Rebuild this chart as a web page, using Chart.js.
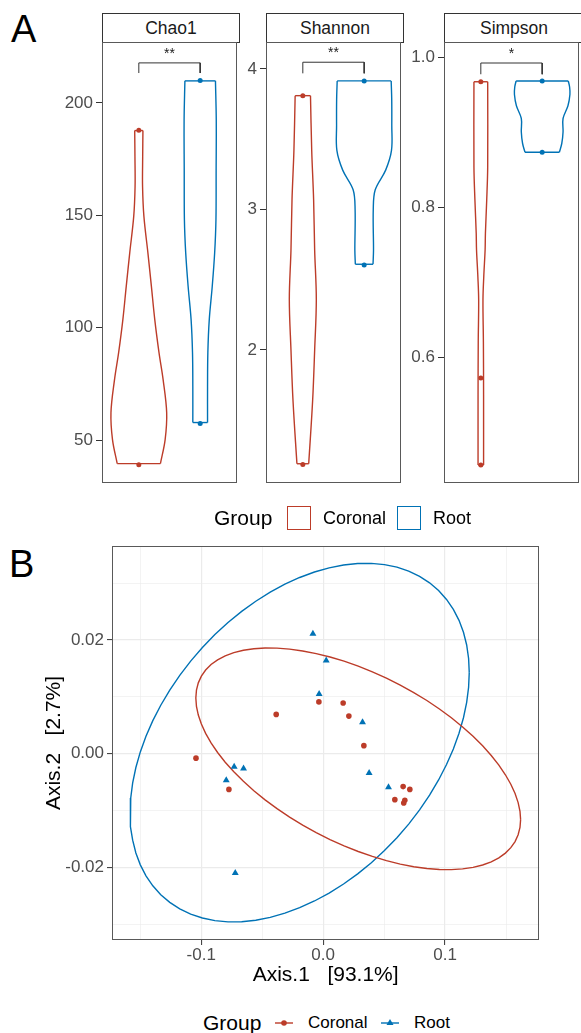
<!DOCTYPE html>
<html>
<head>
<meta charset="utf-8">
<script src="https://cdn.jsdelivr.net/npm/chart.js@4.4.0/dist/chart.umd.min.js"></script>
<style>
  html, body { margin: 0; padding: 0; background: #fff; overflow: hidden; }
  body { width: 581px; height: 1033px; position: relative; font-family: 'Liberation Sans', Arial, sans-serif; }
  canvas { position: absolute; }
  .tag { position: absolute; font-size: 38px; line-height: 1; color: #000; }
  .strip { position: absolute; top: 13px; height: 30px; box-sizing: border-box; border: 1px solid #333;
           background: #fff; font-size: 17.5px; color: #1a1a1a; text-align: center; line-height: 28px; }
  .txt { position: absolute; line-height: 24px; height: 24px; white-space: nowrap; color: #000; }
  .box { position: absolute; width: 24px; height: 24px; box-sizing: border-box; background: #fff; }
</style>
</head>
<body>
<div class="tag" style="left:11px; top:10px;">A</div>
<div class="tag" style="left:9px; top:545px;">B</div>

<div class="strip" style="left:102px; width:138px;">Chao1</div>
<div class="strip" style="left:266px; width:138px;">Shannon</div>
<div class="strip" style="left:444px; width:140px;">Simpson</div>

<canvas id="chao1"></canvas>
<canvas id="shannon"></canvas>
<canvas id="simpson"></canvas>

<!-- legend of panel A -->
<div class="txt" style="left:214px; top:506px; font-size:21px;">Group</div>
<div class="box" style="left:287px; top:506px; border:1.5px solid #BC3C29;"></div>
<div class="txt" style="left:323px; top:506px; font-size:18px;">Coronal</div>
<div class="box" style="left:397px; top:506px; border:1.5px solid #0072B5;"></div>
<div class="txt" style="left:433px; top:506px; font-size:18px;">Root</div>

<canvas id="pcoa"></canvas>

<!-- legend of panel B -->
<div class="txt" style="left:203px; top:1011px; font-size:21px;">Group</div>
<svg style="position:absolute; left:275px; top:1011px;" width="18" height="24">
  <line x1="0" y1="12" x2="18" y2="12" stroke="#BC3C29" stroke-width="1.4"/>
  <circle cx="9" cy="12" r="2.8" fill="#BC3C29"/>
</svg>
<div class="txt" style="left:308px; top:1011px; font-size:17px;">Coronal</div>
<svg style="position:absolute; left:381px; top:1011px;" width="18" height="24">
  <line x1="0" y1="12" x2="18" y2="12" stroke="#0072B5" stroke-width="1.4"/>
  <polygon points="9,8 12.5,14 5.5,14" fill="#0072B5"/>
</svg>
<div class="txt" style="left:414px; top:1011px; font-size:17px;">Root</div>

<script>
// ---- data ----
const groups = ['Coronal', 'Root'];
const groupColors = ['#BC3C29', '#0072B5'];

// violin outlines: value and half width (in category units)
const chaoCoronalValue = [39.5, 50.2, 62.2, 76.9, 88.9, 103.6, 118.4, 133.3, 149.5, 162.8, 176.0, 187.7];
const chaoCoronalWidth = [0.352, 0.429, 0.454, 0.396, 0.329, 0.260, 0.205, 0.148, 0.083, 0.061, 0.063, 0.067];
const chaoRootValue = [57.8, 73.8, 88.9, 103.6, 118.2, 133.3, 148.0, 170.0, 192.4, 209.8];
const chaoRootWidth = [0.120, 0.120, 0.125, 0.148, 0.196, 0.236, 0.257, 0.260, 0.262, 0.249];
const chaoCoronalPoints = [39.0, 187.8];
const chaoRootPoints = [57.4, 210.0];

const shannonCoronalValue = [1.19, 1.64, 2.0, 2.36, 2.71, 3.07, 3.42, 3.81];
const shannonCoronalWidth = [0.096, 0.160, 0.193, 0.220, 0.193, 0.176, 0.145, 0.125];
const shannonRootValue = [2.61, 2.71, 3.0, 3.14, 3.28, 3.42, 3.6, 3.78, 3.915];
const shannonRootWidth = [0.144, 0.152, 0.148, 0.180, 0.350, 0.445, 0.450, 0.449, 0.440];
const shannonCoronalPoints = [1.185, 3.81];
const shannonRootPoints = [2.605, 3.915];

const simpsonCoronalValue = [0.456, 0.55, 0.62, 0.676, 0.707, 0.743, 0.765, 0.809, 0.853, 0.967];
const simpsonCoronalWidth = [0.045, 0.045, 0.042, 0.035, 0.048, 0.070, 0.075, 0.096, 0.112, 0.112];
const simpsonRootValue = [0.873, 0.885, 0.9, 0.918, 0.935, 0.95, 0.96, 0.968];
const simpsonRootWidth = [0.280, 0.320, 0.340, 0.340, 0.420, 0.452, 0.447, 0.425];
const simpsonCoronalPoints = [0.456, 0.572, 0.967];
const simpsonRootPoints = [0.873, 0.968];

const chaoTicks = [50, 100, 150, 200];
const shannonTicks = [2, 3, 4];
const simpsonTicks = [0.6, 0.8, 1.0];

// significance brackets: [tip, bar]
const chaoBracket = [213.3, 217.8];
const shannonBracket = [3.969, 4.048];
const simpsonBracket = [0.977, 0.992];
const chaoStars = '**';
const shannonStars = '**';
const simpsonStars = '*';

// PCoA ordination
const coronalAxis1 = [-0.1043, -0.0385, -0.0773, -0.0035, 0.0164, 0.0211, 0.0334, 0.0656, 0.0711, 0.0588, 0.0661, 0.0670];
const coronalAxis2 = [-0.0008, 0.0069, -0.0063, 0.0091, 0.0089, 0.0066, 0.0014, -0.0058, -0.0063, -0.0081, -0.0087, -0.0082];
const rootAxis1 = [-0.0084, 0.0025, -0.0033, 0.0323, 0.0377, 0.0536, -0.0730, -0.0653, -0.0795, -0.0721];
const rootAxis2 = [0.0211, 0.0164, 0.0105, 0.0055, -0.0034, -0.0059, -0.0023, -0.0026, -0.0047, -0.0210];
// ellipses: centre x, centre y, then conjugate half axes (x cos, x sin, y cos, y sin)
const coronalEllipse = [0.02877, -0.000915, 0.1332, 0, -0.0107, 0.01631];
const rootEllipse = [-0.01926, 0.00194, 0.1391, 0, 0.01232, 0.02906];

const axis1Ticks = [-0.1, 0, 0.1];
const axis1Minor = [-0.15, -0.05, 0.05, 0.15];
const axis2Ticks = [-0.02, 0, 0.02];
const axis2Minor = [-0.03, -0.01, 0.01, 0.03];

// ---- drawing ----
const FONT = "'Liberation Sans', Arial, sans-serif";
Chart.defaults.font.family = FONT;

const panelBorder = {
    id: 'panelBorder',
    afterDraw(chart, args, opts) {
        const { ctx, chartArea } = chart;
        ctx.save();
        ctx.strokeStyle = opts.color || '#595959';
        ctx.lineWidth = 1;
        const l = Math.round(chartArea.left) + 0.5, t = Math.round(chartArea.top) + 0.5;
        const r = Math.round(chartArea.right) - 0.5, b = Math.round(chartArea.bottom) - 0.5;
        ctx.strokeRect(l, t, r - l, b - t);
        ctx.restore();
    }
};

const starsPlugin = {
    id: 'stars',
    afterDatasetsDraw(chart, args, opts) {
        if (!opts.text) return;
        const { ctx, scales } = chart;
        ctx.save();
        ctx.fillStyle = '#1a1a1a';
        ctx.font = '14px ' + FONT;
        ctx.textAlign = 'center';
        ctx.textBaseline = 'alphabetic';
        ctx.fillText(opts.text, scales.x.getPixelForValue(1.5), scales.y.getPixelForValue(opts.y) - 5);
        ctx.restore();
    }
};

function lineSet(data, color, tension, width) {
    return { type: 'line', data, borderColor: color, borderWidth: width || 1.4, pointRadius: 0, tension, fill: false };
}

const PANEL_TOP = 42, PANEL_BOTTOM = 483;

function violinPanel(id, left, right, yMin, yMax, yTicks, decimals, violins, bracket, stars) {
    const canvas = document.getElementById(id);
    const axisW = 60, padV = 14;
    canvas.width = (right - left) + axisW + 2;
    canvas.height = (PANEL_BOTTOM - PANEL_TOP) + padV * 2;
    canvas.style.left = (left - axisW) + 'px';
    canvas.style.top = (PANEL_TOP - padV) + 'px';

    const datasets = [];
    violins.forEach((v, i) => {
        const c = i + 1;
        const color = groupColors[i];
        const n = v.value.length - 1;
        const side = sign => v.value.map((y, k) => ({ x: c + sign * v.width[k], y }));
        datasets.push(lineSet(side(1), color, 0.35));
        datasets.push(lineSet(side(-1), color, 0.35));
        datasets.push(lineSet([{ x: c - v.width[0], y: v.value[0] }, { x: c + v.width[0], y: v.value[0] }], color, 0));
        datasets.push(lineSet([{ x: c - v.width[n], y: v.value[n] }, { x: c + v.width[n], y: v.value[n] }], color, 0));
        datasets.push({
            type: 'line', showLine: false, data: v.points.map(y => ({ x: c, y })),
            pointRadius: 2.5, pointBackgroundColor: color, pointBorderWidth: 0
        });
    });
    datasets.push(lineSet([{ x: 1, y: bracket[0] }, { x: 1, y: bracket[1] }, { x: 2, y: bracket[1] }, { x: 2, y: bracket[0] }], '#333', 0, 1));

    return new Chart(canvas, {
        type: 'line',
        data: { datasets },
        options: {
            responsive: false,
            animation: false,
            layout: { padding: { left: 0, right: 2, top: padV, bottom: padV } },
            plugins: {
                legend: { display: false },
                tooltip: { enabled: false },
                panelBorder: { color: '#595959' },
                stars: { text: stars, y: bracket[1] }
            },
            scales: {
                x: { type: 'linear', display: false, min: 0.4, max: 2.6 },
                y: {
                    type: 'linear', min: yMin, max: yMax,
                    afterBuildTicks: s => { s.ticks = yTicks.map(value => ({ value })); },
                    afterFit: s => { s.width = axisW; },
                    ticks: { color: '#4d4d4d', font: { size: 17 }, padding: 3, autoSkip: false,
                             callback: v => Number(v).toFixed(decimals) },
                    grid: { drawOnChartArea: false, drawTicks: true, tickLength: 6, color: '#333', lineWidth: 1 },
                    border: { display: false }
                }
            }
        },
        plugins: [panelBorder, starsPlugin]
    });
}

violinPanel('chao1', 102, 239, 30.9, 227.1, chaoTicks, 0, [
    { value: chaoCoronalValue, width: chaoCoronalWidth, points: chaoCoronalPoints },
    { value: chaoRootValue, width: chaoRootWidth, points: chaoRootPoints }
], chaoBracket, chaoStars);

violinPanel('shannon', 266, 403, 1.053, 4.192, shannonTicks, 0, [
    { value: shannonCoronalValue, width: shannonCoronalWidth, points: shannonCoronalPoints },
    { value: shannonRootValue, width: shannonRootWidth, points: shannonRootPoints }
], shannonBracket, shannonStars);

violinPanel('simpson', 444, 581, 0.432, 1.02, simpsonTicks, 1, [
    { value: simpsonCoronalValue, width: simpsonCoronalWidth, points: simpsonCoronalPoints },
    { value: simpsonRootValue, width: simpsonRootWidth, points: simpsonRootPoints }
], simpsonBracket, simpsonStars);

// ---- PCoA panel ----
function ellipsePoints(p) {
    const [cx, cy, ax, bx, ay, by] = p;
    const pts = [];
    for (let k = 0; k <= 72; k++) {
        const t = k / 72 * 2 * Math.PI;
        pts.push({ x: cx + ax * Math.cos(t) + bx * Math.sin(t), y: cy + ay * Math.cos(t) + by * Math.sin(t) });
    }
    return pts;
}

const isMajor = (list, v) => list.some(m => Math.abs(m - v) < 1e-9);
const sorted = (a, b) => [...a, ...b].sort((p, q) => p - q);

const pcoaCanvas = document.getElementById('pcoa');
pcoaCanvas.width = 543;
pcoaCanvas.height = 460;
pcoaCanvas.style.left = '38px';
pcoaCanvas.style.top = '532px';

new Chart(pcoaCanvas, {
    type: 'scatter',
    data: {
        datasets: [
            {
                label: groups[0], data: coronalAxis1.map((x, i) => ({ x, y: coronalAxis2[i] })),
                pointStyle: 'circle', pointRadius: 2.8, backgroundColor: groupColors[0], borderWidth: 0
            },
            {
                label: groups[1], data: rootAxis1.map((x, i) => ({ x, y: rootAxis2[i] })),
                pointStyle: 'triangle', pointRadius: 4, backgroundColor: groupColors[1], borderWidth: 0
            },
            { data: ellipsePoints(coronalEllipse), showLine: true, borderColor: groupColors[0], borderWidth: 1.4, pointRadius: 0, tension: 0 },
            { data: ellipsePoints(rootEllipse), showLine: true, borderColor: groupColors[1], borderWidth: 1.4, pointRadius: 0, tension: 0 }
        ]
    },
    options: {
        responsive: false,
        animation: false,
        layout: { padding: { left: 0, right: 41.7, top: 14, bottom: 0 } },
        plugins: { legend: { display: false }, tooltip: { enabled: false }, panelBorder: { color: '#595959' } },
        scales: {
            x: {
                type: 'linear', min: -0.1732, max: 0.1773,
                afterBuildTicks: s => { s.ticks = sorted(axis1Ticks, axis1Minor).map(value => ({ value })); },
                afterFit: s => { s.height = 52; },
                ticks: { color: '#4d4d4d', font: { size: 17 }, padding: 0, autoSkip: false, maxRotation: 0,
                         callback: v => isMajor(axis1Ticks, v) ? Number(v).toFixed(1) : '' },
                grid: {
                    color: '#ebebeb', tickLength: 5, tickWidth: 1,
                    lineWidth: c => isMajor(axis1Ticks, c.tick.value) ? 1.2 : 0.6,
                    tickColor: c => isMajor(axis1Ticks, c.tick.value) ? '#333' : 'rgba(0,0,0,0)'
                },
                border: { display: false },
                title: { display: true, text: 'Axis.1   [93.1%]', color: '#000', font: { size: 21 }, padding: { top: 4, bottom: 4 } }
            },
            y: {
                type: 'linear', min: -0.0328, max: 0.03654,
                afterBuildTicks: s => { s.ticks = sorted(axis2Ticks, axis2Minor).map(value => ({ value })); },
                afterFit: s => { s.width = 74; },
                ticks: { color: '#4d4d4d', font: { size: 17 }, padding: 3, autoSkip: false,
                         callback: v => isMajor(axis2Ticks, v) ? Number(v).toFixed(2) : '' },
                grid: {
                    color: '#ebebeb', tickLength: 5, tickWidth: 1,
                    lineWidth: c => isMajor(axis2Ticks, c.tick.value) ? 1.2 : 0.6,
                    tickColor: c => isMajor(axis2Ticks, c.tick.value) ? '#333' : 'rgba(0,0,0,0)'
                },
                border: { display: false },
                title: { display: true, text: 'Axis.2   [2.7%]', color: '#000', font: { size: 21 }, padding: { top: 4, bottom: 4 } }
            }
        }
    },
    plugins: [panelBorder]
});
</script>
</body>
</html>
